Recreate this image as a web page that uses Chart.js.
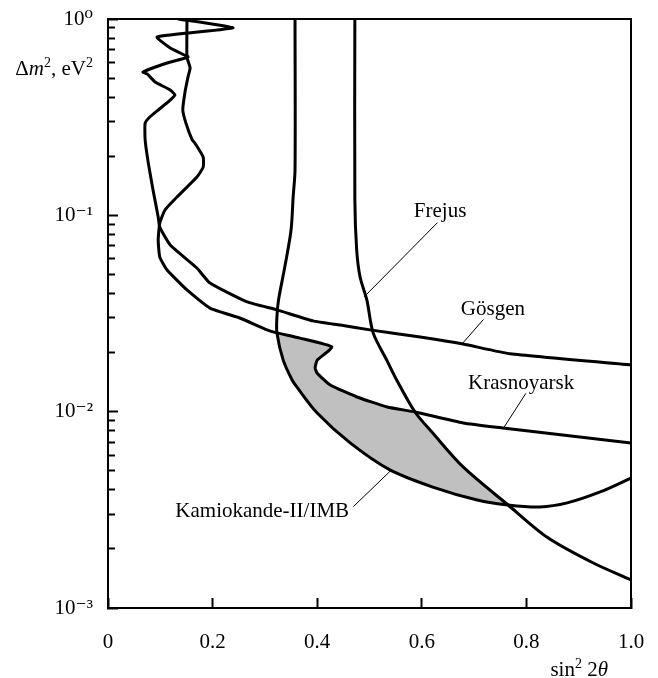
<!DOCTYPE html>
<html>
<head>
<meta charset="utf-8">
<script src="https://cdn.jsdelivr.net/npm/chart.js@4.4.1/dist/chart.umd.min.js"></script>
<style>
html,body{margin:0;padding:0;background:#fff;}
#wrap{width:658px;height:678px;}
</style>
</head>
<body>
<div id="wrap"><canvas id="c" width="658" height="678"></canvas></div>
<script>
const FONT = "'Liberation Serif','DejaVu Serif',serif";

// ---- tick values and labels ----
const xTickValues = [0, 0.2, 0.4, 0.6, 0.8, 1.0];
const xTickLabels = ['0', '0.2', '0.4', '0.6', '0.8', '1.0'];
const yMajorValues = [0.001, 0.01, 0.1, 1];
const yMajorLabels = ['10\u207B\u00B3', '10\u207B\u00B2', '10\u207B\u00B9', '10\u2070'];
const yMinorValues = [0.002, 0.003, 0.004, 0.005, 0.006, 0.007, 0.008, 0.009,
                      0.02, 0.03, 0.04, 0.05, 0.06, 0.07, 0.08, 0.09,
                      0.2, 0.3, 0.4, 0.5, 0.6, 0.7, 0.8, 0.9];

// ---- curves: [sin^2 2theta, delta m^2 (eV^2)] ----
const gosgen = [
  [0.134,1.0],[0.239,0.90],[0.094,0.81],[0.119,0.711],[0.138,0.671],[0.153,0.640],
  [0.113,0.597],[0.067,0.537],[0.075,0.525],[0.090,0.478],[0.119,0.435],[0.128,0.410],
  [0.115,0.378],[0.096,0.344],[0.080,0.317],[0.071,0.295],[0.071,0.242],[0.077,0.185],
  [0.086,0.135],[0.096,0.098],[0.099,0.087],[0.119,0.0706],[0.170,0.0539],[0.195,0.0452],
  [0.266,0.0362],[0.323,0.0330],[0.392,0.0290],[0.444,0.0276],[0.501,0.0261],
  [0.597,0.0240],[0.679,0.0221],[0.769,0.0197],[1.0,0.0173]
];
const krasnoyarsk = [
  [0.151,1.0],[0.151,0.640],[0.157,0.563],[0.153,0.507],[0.147,0.420],[0.143,0.344],
  [0.149,0.295],[0.161,0.242],[0.166,0.2335],[0.182,0.198],[0.182,0.176],[0.170,0.1567],
  [0.132,0.124],[0.109,0.1065],[0.099,0.0914],[0.096,0.0749],[0.099,0.0613],[0.113,0.0527],
  [0.151,0.0417],[0.195,0.0337],[0.252,0.0300],[0.304,0.0261],[0.323,0.0252],[0.367,0.0237],
  [0.428,0.02135],[0.400,0.0183],[0.396,0.0167],[0.400,0.0157],[0.425,0.01367],
  [0.476,0.01188],[0.534,0.01057],[0.587,0.00996],[0.679,0.00876],[0.755,0.00826],[1.0,0.00692]
];
const frejus = [
  [0.472,1.0],[0.472,0.1197],[0.4755,0.0666],[0.482,0.0485],[0.495,0.0370],[0.507,0.0252],
  [0.533,0.0183],[0.552,0.01449],[0.587,0.00996],[0.621,0.00778],[0.679,0.00523],
  [0.765,0.003346],[0.839,0.0023],[0.927,0.0017],[1.0,0.00139]
];
const kamiokande = [
  [0.3576,1.0],[0.3576,0.170],[0.354,0.124],[0.350,0.0842],[0.338,0.0545],[0.326,0.0370],
  [0.323,0.0304],[0.323,0.0252],[0.335,0.0183],[0.352,0.0145],[0.361,0.01336],[0.400,0.00984],
  [0.463,0.00693],[0.539,0.00505],[0.621,0.00413],[0.706,0.00355],[0.765,0.003346],
  [0.826,0.00327],[0.878,0.00343],[0.941,0.0039],[1.0,0.00459]
];
const allowedRegion = [
  [0.323,0.0252],[0.367,0.0237],[0.428,0.02135],[0.400,0.0183],[0.396,0.0167],[0.400,0.0157],
  [0.425,0.01367],[0.476,0.01188],[0.534,0.01057],[0.587,0.00996],[0.621,0.00778],
  [0.679,0.00523],[0.765,0.003346],[0.706,0.00355],[0.621,0.00413],[0.539,0.00505],
  [0.463,0.00693],[0.400,0.00984],[0.361,0.01336],[0.352,0.0145],[0.335,0.0183],[0.323,0.0252]
];

// ---- label leaders and anchors ----
const frejusLeader = [[0.630,0.0918],[0.490,0.0385]];
const gosgenLeader = [[0.718,0.0295],[0.678,0.0223]];
const krasnoyarskLeader = [[0.799,0.0124],[0.756,0.00823]];
const kamiokandeLeader = [[0.469,0.00328],[0.542,0.00505]];
const labelNames = ['Frejus', 'G\u00F6sgen', 'Krasnoyarsk', 'Kamiokande-II/IMB'];
const labelAnchors = [[0.635,0.098],[0.736,0.0311],[0.790,0.01304],[0.461,0.00291]];
const labelAlign = ['center','center','center','right'];

const pts = a => a.map(p => ({x: p[0], y: p[1]}));

function curve(data, tension) {
  return { data: pts(data), borderColor: '#000', borderWidth: 3, pointRadius: 0,
           fill: false, tension: tension, xAxisID: 'x', yAxisID: 'y', borderJoinStyle: 'round' };
}
function leader(data) {
  return { data: pts(data), borderColor: '#000', borderWidth: 1, pointRadius: 0,
           fill: false, tension: 0, xAxisID: 'x', yAxisID: 'y' };
}

function drawRich(ctx, parts, rightX, baseY) {
  const size = 21, sup = 14;
  const fontOf = k => (k === 'i' ? 'italic ' : '') + (k === 's' ? sup : size) + 'px ' + FONT;
  let total = 0;
  parts.forEach(([t, k]) => { ctx.font = fontOf(k); total += ctx.measureText(t).width; });
  let cx = rightX - total;
  ctx.textAlign = 'left';
  ctx.textBaseline = 'alphabetic';
  parts.forEach(([t, k]) => {
    ctx.font = fontOf(k);
    ctx.fillText(t, cx, k === 's' ? baseY - 8 : baseY);
    cx += ctx.measureText(t).width;
  });
}

const textPlugin = {
  id: 'texts',
  afterDatasetsDraw(chart) {
    const {ctx, chartArea} = chart;
    const xs = chart.scales.x, ys = chart.scales.y;
    ctx.save();
    ctx.fillStyle = '#000';
    ctx.font = '21px ' + FONT;
    ctx.textBaseline = 'alphabetic';
    labelNames.forEach((t, i) => {
      ctx.textAlign = labelAlign[i];
      ctx.fillText(t, xs.getPixelForValue(labelAnchors[i][0]), ys.getPixelForValue(labelAnchors[i][1]));
    });
    drawRich(ctx, [['\u0394','n'],['m','i'],['2','s'],[', eV','n'],['2','s']], chartArea.left - 15, chartArea.top + 56);
    drawRich(ctx, [['sin','n'],['2','s'],[' 2','n'],['\u03B8','i']], chartArea.right - 23, chart.height - 2);
    ctx.restore();
  }
};

const tickFont = {family: FONT, size: 21};

new Chart(document.getElementById('c'), {
  type: 'line',
  data: {
    datasets: [
      curve(gosgen, 0.15),
      curve(krasnoyarsk, 0.15),
      curve(frejus, 0.3),
      curve(kamiokande, 0.3),
      leader(frejusLeader),
      leader(gosgenLeader),
      leader(krasnoyarskLeader),
      leader(kamiokandeLeader),
      { data: pts(allowedRegion), indexAxis: 'y', fill: 'shape', backgroundColor: '#c0c0c0',
        borderColor: 'rgba(0,0,0,0)', borderWidth: 0, pointRadius: 0, tension: 0,
        xAxisID: 'x', yAxisID: 'y' }
    ]
  },
  options: {
    responsive: false,
    animation: false,
    devicePixelRatio: 1,
    events: [],
    layout: { padding: 0 },
    plugins: { legend: {display: false}, tooltip: {enabled: false}, title: {display: false} },
    scales: {
      x: {
        type: 'linear', position: 'bottom', min: 0, max: 1, weight: 1,
        afterBuildTicks: s => { s.ticks = xTickValues.map(v => ({value: v})); },
        afterFit: s => { s.height = 70; s.paddingLeft = 0; s.paddingRight = 0; },
        ticks: { callback: v => xTickLabels[xTickValues.indexOf(v)], font: tickFont, color: '#000',
                 padding: 32, maxRotation: 0, autoSkip: false },
        grid: { display: true, drawOnChartArea: false, drawTicks: true, tickLength: -10, tickWidth: 2, tickColor: '#000' },
        border: { display: true, color: '#000', width: 2 }
      },
      y: {
        type: 'logarithmic', position: 'left', min: 0.001, max: 1, weight: 1,
        afterBuildTicks: s => { s.ticks = yMajorValues.map(v => ({value: v, major: true})); },
        afterFit: s => { s.width = 108; s.paddingTop = 0; s.paddingBottom = 0; },
        ticks: { callback: v => yMajorLabels[yMajorValues.indexOf(v)], font: tickFont, color: '#000',
                 padding: 25, autoSkip: false },
        grid: { display: true, drawOnChartArea: false, drawTicks: true, tickLength: -10, tickWidth: 2, tickColor: '#000' },
        border: { display: true, color: '#000', width: 2 }
      },
      yMinor: {
        type: 'logarithmic', position: 'left', min: 0.001, max: 1, weight: 0,
        afterBuildTicks: s => { s.ticks = yMinorValues.map(v => ({value: v})); },
        afterFit: s => { s.width = 0; s.paddingTop = 0; s.paddingBottom = 0; },
        ticks: { display: false, autoSkip: false },
        grid: { display: true, drawOnChartArea: false, drawTicks: true, tickLength: -7, tickWidth: 2, tickColor: '#000' },
        border: { display: false }
      },
      xTop: {
        type: 'linear', position: 'top', min: 0, max: 1,
        afterFit: s => { s.height = 19; s.paddingLeft = 0; s.paddingRight = 0; },
        ticks: { display: false },
        grid: { display: false },
        border: { display: true, color: '#000', width: 2 }
      },
      yRight: {
        type: 'linear', position: 'right', min: 0, max: 1,
        afterFit: s => { s.width = 27; s.paddingTop = 0; s.paddingBottom = 0; },
        ticks: { display: false },
        grid: { display: false },
        border: { display: true, color: '#000', width: 2 }
      }
    }
  },
  plugins: [textPlugin]
});
</script>
</body>
</html>
